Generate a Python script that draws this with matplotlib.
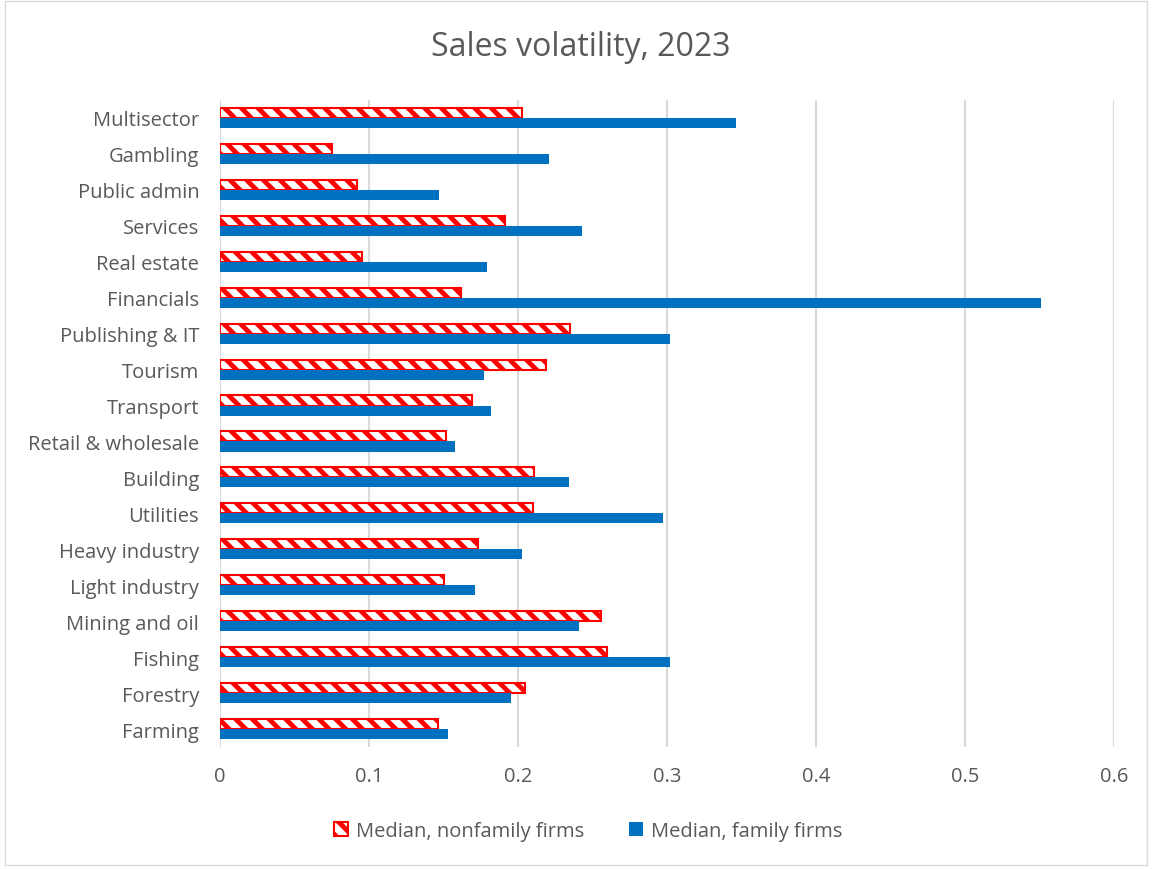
import matplotlib.pyplot as plt
import matplotlib.patches as mpatches
import numpy as np

plt.rcParams['font.family'] = ['Open Sans', 'DejaVu Sans']
plt.rcParams['hatch.linewidth'] = 3.5

sectors = ['Farming', 'Forestry', 'Fishing', 'Mining and oil', 'Light industry',
           'Heavy industry', 'Utilities', 'Building', 'Retail & wholesale',
           'Transport', 'Tourism', 'Publishing & IT', 'Financials', 'Real estate',
           'Services', 'Public admin', 'Gambling', 'Multisector']
nonfamily = [0.146, 0.205, 0.260, 0.256, 0.150, 0.173, 0.210, 0.211, 0.152,
             0.169, 0.219, 0.235, 0.162, 0.095, 0.191, 0.092, 0.075, 0.203]
family = [0.153, 0.195, 0.302, 0.241, 0.171, 0.203, 0.297, 0.234, 0.158,
          0.182, 0.177, 0.302, 0.551, 0.179, 0.243, 0.147, 0.221, 0.346]

grey = '#595959'
fig = plt.figure(figsize=(11.52, 8.70), dpi=100)
ax = fig.add_axes([220/1152, 1 - 748/870, (1114-220)/1152, (748-101)/870])

y = np.arange(len(sectors))
h = 0.28
ax.barh(y + h/2, nonfamily, height=h, color='white', edgecolor='#ff0000',
        hatch='\\\\', linewidth=1.5, label='Median, nonfamily firms', zorder=3)
ax.barh(y - h/2, family, height=h, color='#0070c0', label='Median, family firms', zorder=3)

ax.set_xlim(0, 0.6)
ax.set_ylim(-0.5, len(sectors) - 0.5)
ax.set_yticks(y)
ax.set_yticklabels(sectors)
ax.set_xticks([0, 0.1, 0.2, 0.3, 0.4, 0.5, 0.6])
ax.set_xticklabels(['0', '0.1', '0.2', '0.3', '0.4', '0.5', '0.6'])
ax.tick_params(axis='both', length=0, labelsize=14.5, colors=grey, labelcolor=grey)
ax.tick_params(axis='x', pad=14)
ax.tick_params(axis='y', pad=15)
ax.grid(axis='x', color='#d9d9d9', linewidth=1.5, zorder=0)
for s in ax.spines.values():
    s.set_visible(False)

fig.text(581/1152, 1 - 47/870, 'Sales volatility, 2023', ha='center', va='center',
         fontsize=23, color=grey)

handles, labels = ax.get_legend_handles_labels()
fig.legend(handles, labels, loc='center', bbox_to_anchor=(588/1152, 1 - 832/870),
           ncol=2, frameon=False, fontsize=14.5, labelcolor=grey,
           handlelength=0.7, handleheight=0.7, columnspacing=2.2, handletextpad=0.4)

fig.patches.append(mpatches.Rectangle((5/1152, 4/870), 1 - 10/1152, 1 - 6/870,
                                      transform=fig.transFigure, fill=False,
                                      edgecolor='#d9d9d9', linewidth=1))

fig.savefig('out.png', dpi=100)
